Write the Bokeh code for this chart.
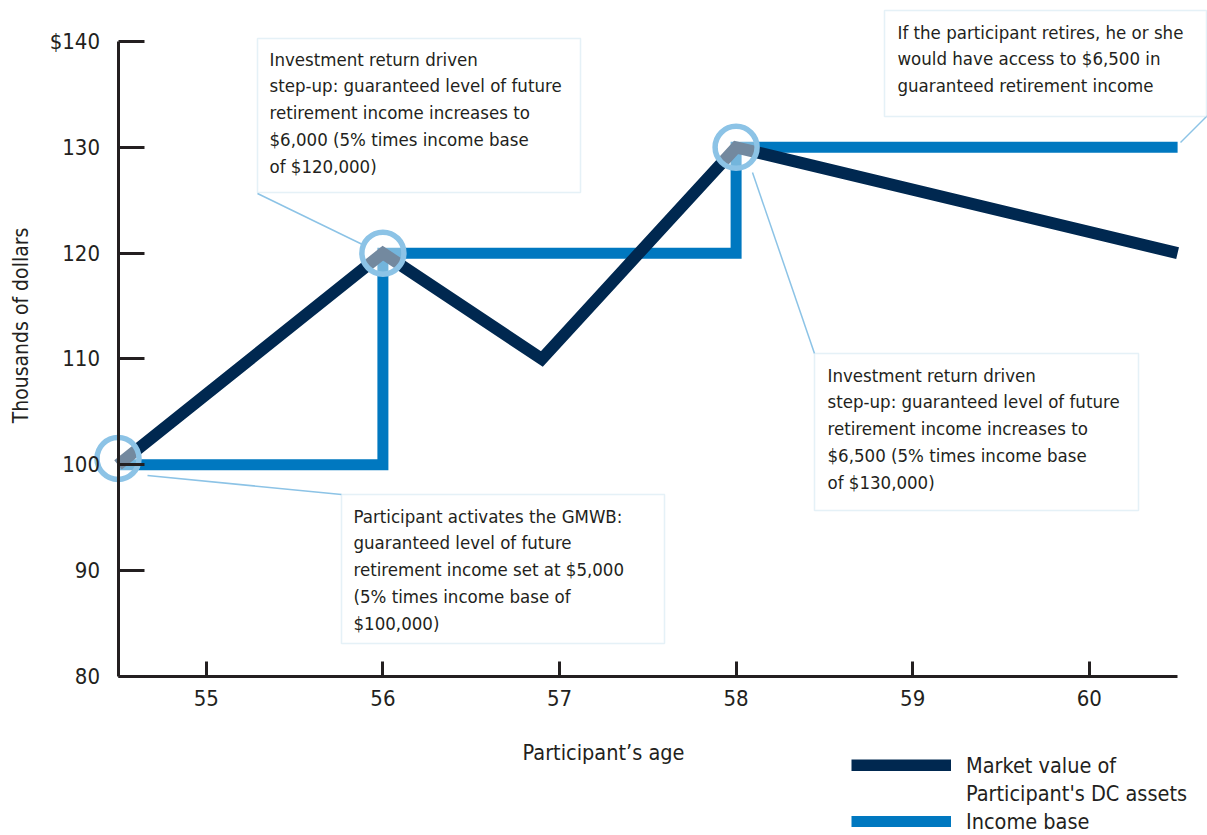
from bokeh.plotting import figure
from bokeh.models import (LinearAxis, FixedTicker, Range1d, Label, BoxAnnotation,
                          Legend, LegendItem, ColumnDataSource)
from bokeh.embed import file_html
from bokeh.resources import INLINE
import math

# ---------------- data ----------------
market_ages = [54.5, 56.0, 56.9, 58.0, 60.5]
market_values = [100, 120, 110, 130, 120]
income_ages = [54.5, 56.0, 56.0, 58.0, 58.0, 60.5]
income_values = [100, 100, 120, 120, 130, 130]
stepup_ages = [54.5, 56.0, 58.0]
stepup_values = [100.6, 120, 130]
x_ticks = [55, 56, 57, 58, 59, 60]
y_ticks = [80, 90, 100, 110, 120, 130, 140]
y_tick_labels = {140: "$140"}

NAVY = "#002850"
BLUE = "#0078c0"
LIGHT = "#8cc3e6"
BOXLINE = "#a8cfe6"
TEXT = "#231f20"
FONT = "DejaVu Sans Condensed"

W, H = 1207, 835
# frame covers the whole canvas; map pixels -> data
PX_PER_X = 176.6
PX_PER_Y = 10.583
X0 = 54.5 - 117.5 / PX_PER_X
Y1 = 140 + 41 / PX_PER_Y


def dx(px):
    return X0 + px / PX_PER_X


def dy(py):
    return Y1 - py / PX_PER_Y


p = figure(width=W, height=H, output_backend="svg", toolbar_location=None,
           x_axis_location=None, y_axis_location=None,
           x_range=Range1d(X0, dx(W)), y_range=Range1d(dy(H), Y1),
           min_border=0, outline_line_color=None)
p.xgrid.visible = False
p.ygrid.visible = False

# ---------------- axes ----------------
yax = LinearAxis(fixed_location=54.5, bounds=(80, 140), ticker=FixedTicker(ticks=y_ticks),
                 major_tick_in=26, major_tick_out=0, minor_tick_in=0, minor_tick_out=0,
                 major_label_standoff=18, axis_line_width=3, major_tick_line_width=3,
                 axis_line_color=TEXT, major_tick_line_color=TEXT,
                 major_label_text_font=FONT, major_label_text_font_size="22px",
                 major_label_text_color=TEXT, major_label_overrides=y_tick_labels)
xax = LinearAxis(fixed_location=80, bounds=(54.5, 60.5), ticker=FixedTicker(ticks=x_ticks),
                 major_tick_in=15, major_tick_out=0, minor_tick_in=0, minor_tick_out=0,
                 major_label_standoff=14, axis_line_width=3, major_tick_line_width=3,
                 axis_line_color=TEXT, major_tick_line_color=TEXT,
                 major_label_text_font=FONT, major_label_text_font_size="22px",
                 major_label_text_color=TEXT)
p.add_layout(yax, "left")
p.add_layout(xax, "below")

# ---------------- callout leader lines ----------------
leaders = ColumnDataSource(dict(
    x0=[dx(257), dx(147), dx(752), dx(1180)],
    y0=[dy(193), dy(475), dy(172), dy(142)],
    x1=[dx(364), dx(341), dx(814), dx(1207)],
    y1=[dy(245), dy(494), dy(353), dy(115)],
))
p.segment("x0", "y0", "x1", "y1", source=leaders, line_color=LIGHT, line_width=1.5)

# ---------------- series ----------------
r_income = p.line(income_ages, income_values, line_color=BLUE, line_width=11,
                  line_join="miter")
r_market = p.line(market_ages, market_values, line_color=NAVY, line_width=12,
                  line_join="miter")
p.scatter(stepup_ages, stepup_values, size=42, fill_color="white", fill_alpha=0.45,
          line_color=LIGHT, line_width=5.5)

# ---------------- callout boxes ----------------
boxes = [
    (257, 38, 580, 192, 269, 48,
     "Investment return driven\nstep-up: guaranteed level of future\nretirement income increases to\n$6,000 (5% times income base\nof $120,000)"),
    (884, 10, 1206, 116, 897, 21,
     "If the participant retires, he or she\nwould have access to $6,500 in\nguaranteed retirement income"),
    (814, 353, 1138, 510, 827, 364,
     "Investment return driven\nstep-up: guaranteed level of future\nretirement income increases to\n$6,500 (5% times income base\nof $130,000)"),
    (341, 494, 664, 643, 353, 505,
     "Participant activates the GMWB:\nguaranteed level of future\nretirement income set at $5,000\n(5% times income base of\n$100,000)"),
]
for l, t, r, b, tx, ty, txt in boxes:
    p.add_layout(BoxAnnotation(left=dx(l), right=dx(r), top=dy(t), bottom=dy(b),
                               fill_color="white", fill_alpha=1.0,
                               line_color=BOXLINE, line_width=1.5))
    p.add_layout(Label(x=dx(tx), y=dy(ty), text=txt, text_font=FONT,
                       text_font_size="18.5px", text_color=TEXT, text_baseline="top",
                       text_align="left", text_line_height=1.285))

# ---------------- axis titles ----------------
p.add_layout(Label(x=dx(20), y=dy(325), text="Thousands of dollars", angle=math.pi / 2,
                   text_font=FONT, text_font_size="21px", text_color=TEXT,
                   text_align="center", text_baseline="middle"))
p.add_layout(Label(x=dx(603), y=dy(752), text="Participant\u2019s age",
                   text_font=FONT, text_font_size="21.5px", text_color=TEXT,
                   text_align="center", text_baseline="middle"))

# ---------------- legend ----------------
r_blank = p.line([], [], line_alpha=0)
legend = Legend(items=[
    LegendItem(label="Market value of", renderers=[r_market]),
    LegendItem(label="Participant's DC assets", renderers=[r_blank]),
    LegendItem(label="Income base", renderers=[r_income]),
], location=(851, 0), orientation="vertical", padding=0, margin=0, spacing=0,
    glyph_width=100, glyph_height=12, label_height=28, label_standoff=15,
    label_text_font=FONT, label_text_font_size="21.5px", label_text_color=TEXT,
    border_line_color=None, background_fill_alpha=0)
p.add_layout(legend, "center")

open("out.html", "w").write(file_html(p, INLINE))
